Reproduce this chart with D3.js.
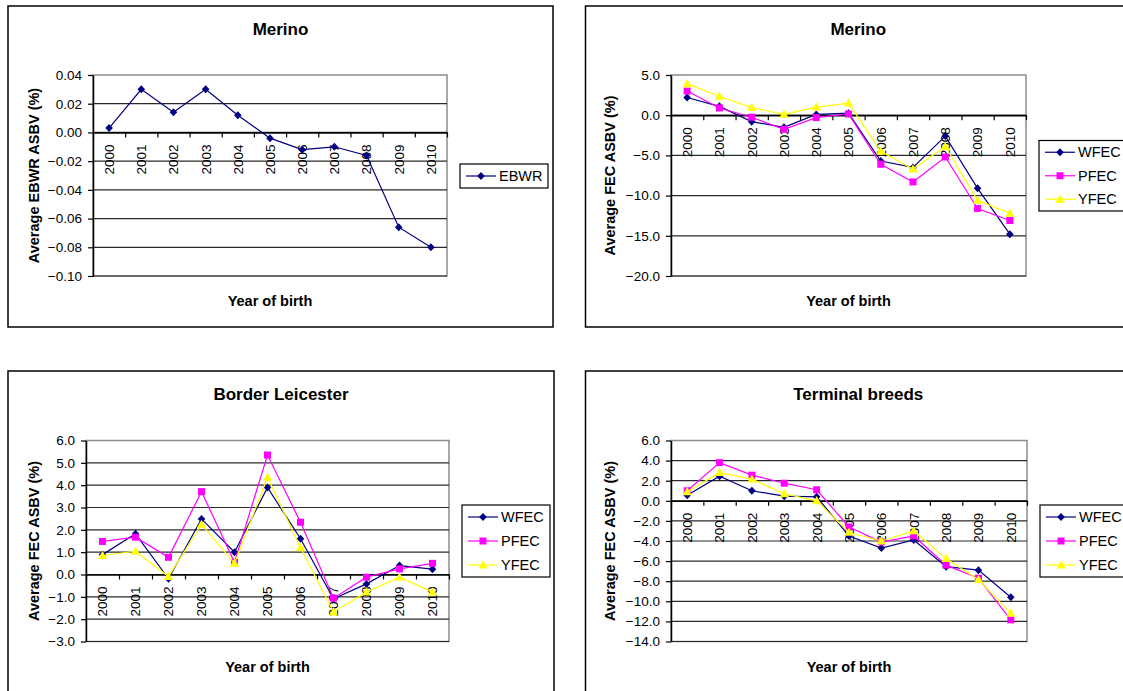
<!DOCTYPE html>
<html>
<head>
<meta charset="utf-8">
<script src="https://cdnjs.cloudflare.com/ajax/libs/d3/7.8.5/d3.min.js"></script>
<style>
body{margin:0;background:#fff;}
text{font-family:"Liberation Sans",Arial,sans-serif;fill:#000;}
</style>
</head>
<body>
<script>
// data
var years = ['2000','2001','2002','2003','2004','2005','2006','2007','2008','2009','2010'];
var ebwr = [0.003,0.030,0.014,0.030,0.012,-0.004,-0.012,-0.010,-0.016,-0.066,-0.080];
var merinoWFEC = [2.2,1.1,-0.8,-1.5,0.1,0.25,-5.7,-6.5,-2.6,-9.1,-14.8];
var merinoPFEC = [3.0,0.9,-0.25,-1.75,-0.3,0.15,-6.1,-8.3,-5.2,-11.6,-13.1];
var merinoYFEC = [3.9,2.35,0.95,0.1,1.0,1.5,-4.5,-6.7,-3.9,-10.6,-12.2];
var borderWFEC = [0.89,1.82,-0.19,2.49,1.0,3.9,1.6,-1.09,-0.42,0.4,0.24];
var borderPFEC = [1.48,1.67,0.77,3.71,0.55,5.35,2.34,-1.06,-0.12,0.25,0.5];
var borderYFEC = [0.85,1.04,-0.09,2.24,0.5,4.35,1.2,-1.68,-0.79,-0.12,-0.79];
var terminalWFEC = [0.56,2.45,1.0,0.46,0.4,-3.5,-4.7,-3.9,-6.55,-6.9,-9.6];
var terminalPFEC = [1.0,3.8,2.55,1.75,1.1,-2.6,-4.1,-3.5,-6.4,-7.7,-11.85];
var terminalYFEC = [0.9,2.8,2.15,0.7,0.0,-3.15,-4.0,-3.0,-5.75,-7.85,-11.2];
var ebwrTicks = [-0.10,-0.08,-0.06,-0.04,-0.02,0.00,0.02,0.04];
var merinoTicks = [-20,-15,-10,-5,0,5];
var borderTicks = [-3,-2,-1,0,1,2,3,4,5,6];
var terminalTicks = [-14,-12,-10,-8,-6,-4,-2,0,2,4,6];

var seriesStyle = {
	EBWR:{color:'#000080',marker:'diamond'},
	WFEC:{color:'#000080',marker:'diamond'},
	PFEC:{color:'#FF00FF',marker:'square'},
	YFEC:{color:'#FFFF00',marker:'triangle'}
};
var markerPath = {
	diamond:'M0,-4L3.8,0L0,4L-3.8,0Z',
	square:'M-3.5,-3.5H3.5V3.5H-3.5Z',
	triangle:'M0,-4.8L4.6,3.4H-4.6Z'
};

var width = 1123;
var height = 691;
var canvas = d3.select('body')
				.append('svg')
				.attr('width',width)
				.attr('height',height);
canvas.append('rect').attr('width',width).attr('height',height).attr('fill','#fff');

var panels = [
	{title:'Merino',yTitle:'Average EBWR ASBV (%)',ticks:ebwrTicks,fmt:'.2f',
	 series:[{name:'EBWR',values:ebwr}],
	 box:[8,6,553,327],plot:[93,75,447,276],legend:[460,164,548,188],yTitleX:34},
	{title:'Merino',yTitle:'Average FEC ASBV (%)',ticks:merinoTicks,fmt:'.1f',
	 series:[{name:'WFEC',values:merinoWFEC},{name:'PFEC',values:merinoPFEC},{name:'YFEC',values:merinoYFEC}],
	 box:[585.5,6,1131,327],plot:[671,75,1026,276],legend:[1039,140.5,1140,211],yTitleX:610},
	{title:'Border Leicester',yTitle:'Average FEC ASBV (%)',ticks:borderTicks,fmt:'.1f',
	 series:[{name:'WFEC',values:borderWFEC},{name:'PFEC',values:borderPFEC},{name:'YFEC',values:borderYFEC}],
	 box:[8,371,554,695],plot:[86,440.5,449,641.5],legend:[462,505,550,577],yTitleX:34},
	{title:'Terminal breeds',yTitle:'Average FEC ASBV (%)',ticks:terminalTicks,fmt:'.1f',
	 series:[{name:'WFEC',values:terminalWFEC},{name:'PFEC',values:terminalPFEC},{name:'YFEC',values:terminalYFEC}],
	 box:[585.5,371,1131,695],plot:[671,440.5,1027,641.5],legend:[1040,505,1140,577],yTitleX:610}
];

panels.forEach(function(p){
	var g = canvas.append('g');
	var l = p.plot[0], t = p.plot[1], r = p.plot[2], b = p.plot[3];
	// outer frame
	g.append('rect')
		.attr('x',p.box[0]).attr('y',p.box[1])
		.attr('width',p.box[2]-p.box[0]).attr('height',p.box[3]-p.box[1])
		.attr('fill','#fff').attr('stroke','#000').attr('stroke-width',1.5);
	g.append('text')
		.attr('x',(p.box[0]+p.box[2])/2).attr('y',p.box[1]+29)
		.attr('text-anchor','middle')
		.style('font-size','17px').style('font-weight','bold')
		.text(p.title);

	var yScale = d3.scaleLinear()
					.domain(d3.extent(p.ticks))
					.range([b,t]);
	var xBand = d3.scaleBand()
					.domain(years)
					.range([l,r]);
	var xEdge = d3.scaleLinear()
					.domain([0,years.length])
					.range([l,r]);
	var cx = function(i){ return xBand(years[i])+xBand.bandwidth()/2; };

	// plot area border + gridlines
	g.append('rect')
		.attr('x',l).attr('y',t).attr('width',r-l).attr('height',b-t)
		.attr('fill','#fff').attr('stroke','#8c8c8c').attr('stroke-width',1.5);
	g.append('g')
		.selectAll('line')
		.data(p.ticks.slice(0,-1))
		.enter()
		.append('line')
		.attr('x1',l).attr('x2',r)
		.attr('y1',(d)=>yScale(d)).attr('y2',(d)=>yScale(d))
		.attr('stroke','#2a2a2a').attr('stroke-width',1.2);

	// y axis
	var yAxis = g.append('g')
					.attr('transform','translate('+l+',0)')
					.call(d3.axisLeft(yScale).tickValues(p.ticks).tickFormat(d3.format(p.fmt)).tickSize(5).tickSizeOuter(0).tickPadding(6));
	yAxis.select('.domain').attr('stroke','#000').attr('stroke-width',1.5);
	yAxis.selectAll('.tick line').attr('stroke','#000').attr('stroke-width',1.2);
	yAxis.selectAll('.tick text')
		.style('font-family','"Liberation Sans",Arial,sans-serif')
		.style('font-size','13.5px').attr('fill','#000');

	// category axis at zero
	var xAxis = g.append('g')
					.attr('transform','translate(0,'+yScale(0)+')')
					.call(d3.axisBottom(xEdge).ticks(years.length).tickFormat('').tickSize(5).tickSizeOuter(0));
	xAxis.select('.domain').attr('stroke','#000').attr('stroke-width',1.5);
	xAxis.selectAll('.tick line').attr('stroke','#000').attr('stroke-width',1.2);
	g.append('g')
		.selectAll('text')
		.data(years)
		.enter()
		.append('text')
		.attr('transform',(d,i)=>'translate('+cx(i)+','+(yScale(0)+12)+') rotate(-90)')
		.attr('text-anchor','end')
		.attr('dy','0.36em')
		.style('font-size','13.5px')
		.text((d)=>d);

	// axis titles
	g.append('text')
		.attr('transform','translate('+p.yTitleX+','+((t+b)/2)+') rotate(-90)')
		.attr('text-anchor','middle')
		.attr('dy','0.36em')
		.style('font-size','14.5px').style('font-weight','bold')
		.text(p.yTitle);
	g.append('text')
		.attr('x',(l+r)/2).attr('y',b+30)
		.attr('text-anchor','middle')
		.style('font-size','14.5px').style('font-weight','bold')
		.text('Year of birth');

	// series
	var line = d3.line()
				.x((d,i)=>cx(i))
				.y((d)=>yScale(d));
	p.series.forEach(function(s){
		var st = seriesStyle[s.name];
		g.append('path')
			.attr('d',line(s.values))
			.attr('fill','none')
			.attr('stroke',st.color)
			.attr('stroke-width',1.2);
		g.append('g')
			.selectAll('path')
			.data(s.values)
			.enter()
			.append('path')
			.attr('d',markerPath[st.marker])
			.attr('transform',(d,i)=>'translate('+cx(i)+','+yScale(d)+')')
			.attr('fill',st.color);
	});

	// legend
	var lg = p.legend;
	g.append('rect')
		.attr('x',lg[0]).attr('y',lg[1])
		.attr('width',lg[2]-lg[0]).attr('height',lg[3]-lg[1])
		.attr('fill','#fff').attr('stroke','#000').attr('stroke-width',1.2);
	var step = (lg[3]-lg[1])/p.series.length;
	p.series.forEach(function(s,i){
		var st = seriesStyle[s.name];
		var ly = lg[1]+step*(i+0.5);
		g.append('line')
			.attr('x1',lg[0]+6).attr('x2',lg[0]+36)
			.attr('y1',ly).attr('y2',ly)
			.attr('stroke',st.color).attr('stroke-width',1.2);
		g.append('path')
			.attr('d',markerPath[st.marker])
			.attr('transform','translate('+(lg[0]+21)+','+ly+')')
			.attr('fill',st.color);
		g.append('text')
			.attr('x',lg[0]+39).attr('y',ly)
			.attr('dy','0.36em')
			.style('font-size','14.5px')
			.text(s.name);
	});
});
</script>
</body>
</html>
